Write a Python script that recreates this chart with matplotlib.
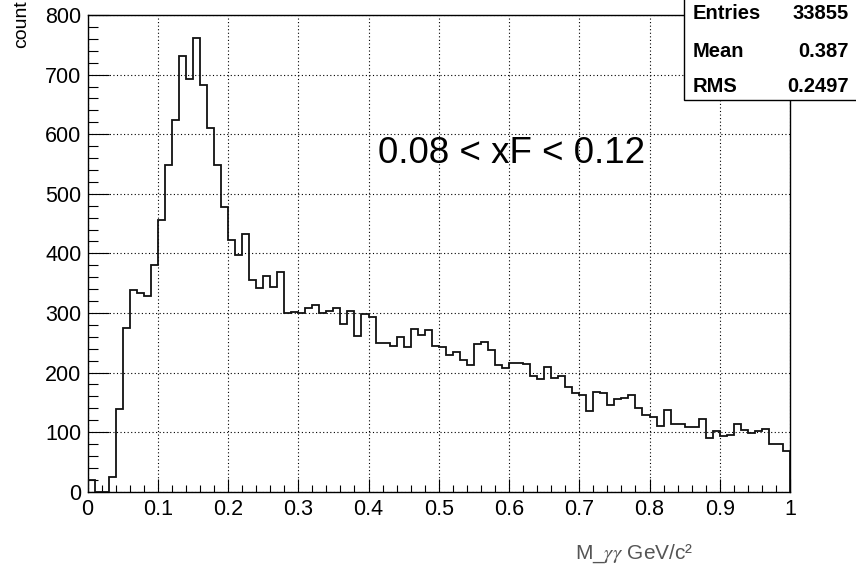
import numpy as np
import matplotlib
matplotlib.use("Agg")
import matplotlib.pyplot as plt
from matplotlib.patches import Rectangle
from matplotlib.ticker import MultipleLocator

plt.rcParams['font.family'] = ['Liberation Sans', 'DejaVu Sans']
plt.rcParams['mathtext.fontset'] = 'stix'

# Diphoton invariant mass histogram, 100 bins on [0, 1]
bin_edges = np.linspace(0.0, 1.0, 101)
counts = [
    20, 0, 0, 24, 138, 275, 339, 333, 329, 381,
    456, 548, 623, 731, 692, 761, 682, 611, 549, 477,
    423, 397, 432, 356, 342, 362, 343, 369, 300, 302,
    300, 308, 314, 300, 304, 308, 281, 303, 261, 298,
    293, 250, 250, 245, 259, 242, 273, 263, 271, 245,
    243, 229, 235, 221, 213, 248, 251, 238, 213, 207,
    216, 216, 214, 195, 189, 210, 191, 195, 176, 165,
    163, 136, 168, 166, 145, 155, 158, 163, 140, 129,
    125, 110, 137, 114, 114, 109, 109, 122, 90, 102,
    94, 95, 114, 104, 99, 102, 105, 80, 80, 69,
]
x_ticks = [0, 0.1, 0.2, 0.3, 0.4, 0.5, 0.6, 0.7, 0.8, 0.9, 1]
x_tick_labels = ["0", "0.1", "0.2", "0.3", "0.4", "0.5", "0.6", "0.7", "0.8", "0.9", "1"]
y_ticks = [0, 100, 200, 300, 400, 500, 600, 700, 800]
stat_names = ["Entries", "Mean", "RMS"]
stat_values = ["33855", "0.387", "0.2497"]
cut_label = "0.08 < xF < 0.12"

W, H = 856, 577
fig = plt.figure(figsize=(W / 100, H / 100), dpi=100)
fig.patch.set_facecolor("white")

left, right, top, bottom = 87.5, 790.0, 15.0, 491.7
ax = fig.add_axes([left / W, 1 - bottom / H, (right - left) / W, (bottom - top) / H])

ax.stairs(counts, bin_edges, color="#111111", lw=1.3, zorder=3)

ax.set_xlim(0, 1)
ax.set_ylim(0, 800)
ax.set_xticks(x_ticks)
ax.set_xticklabels(x_tick_labels)
ax.set_yticks(y_ticks)
ax.xaxis.set_minor_locator(MultipleLocator(0.02))
ax.yaxis.set_minor_locator(MultipleLocator(20))

ax.grid(True, which="major", color="black", lw=0.8, linestyle=(0, (1, 2.2)))
ax.set_axisbelow(True)

for s in ax.spines.values():
    s.set_linewidth(1.0)
    s.set_color("black")

ax.tick_params(axis="both", which="both", direction="in", width=0.8,
               colors="black", labelsize=15.5)
ax.tick_params(axis="x", which="major", length=9.7, pad=5.5)
ax.tick_params(axis="x", which="minor", length=4.9)
ax.tick_params(axis="y", which="major", length=14.8, pad=4.5)
ax.tick_params(axis="y", which="minor", length=7.4)
ax.tick_params(top=False, right=False, which="both")

ax.text(0.4135, 551.5, cut_label, fontsize=26.5, va="baseline", ha="left", color="black")

# axis titles
fig.text(22 / W, 1 - 0.5 / H, "count", rotation=90, ha="center", va="top",
         fontsize=14, color="black")
fig.text(693 / W, 1 - 559 / H, r"M_$\gamma\gamma$ GeV/c²", ha="right", va="baseline",
         fontsize=15, color="#555555")

# statistics box
box = Rectangle((684 / W, 1 - 100 / H), 0.3, 0.3, transform=fig.transFigure,
                facecolor="white", edgecolor="black", lw=1.0, zorder=5)
fig.add_artist(box)
for name, val, yb in zip(stat_names, stat_values, [19.3, 56.7, 91.7]):
    fig.text(693 / W, 1 - yb / H, name, fontsize=14.5, fontweight="bold",
             va="baseline", ha="left", zorder=6)
    fig.text(849 / W, 1 - yb / H, val, fontsize=14.5, fontweight="bold",
             va="baseline", ha="right", zorder=6)

fig.savefig("out.png", dpi=100)
